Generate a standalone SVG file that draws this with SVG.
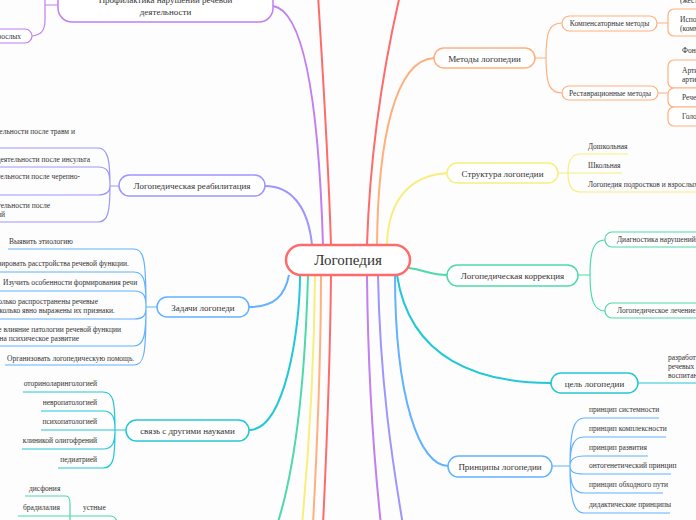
<svg xmlns="http://www.w3.org/2000/svg" width="696" height="520" viewBox="0 0 696 520" font-family="'Liberation Serif', 'DejaVu Serif', serif">
<style>
text{font-family:"Liberation Serif","Times New Roman",Times,serif;fill:#333}
.n{fill:#fff;stroke-width:1.5}
.s{fill:#fff;stroke-width:1.2}
.c{fill:none;stroke-width:2}
.l{fill:none;stroke-width:1.2}
.t10{font-size:9px;text-anchor:middle}
.t8{font-size:7.5px}
.e{text-anchor:end}
.m{text-anchor:middle}
.red{stroke:#ff6b6b}.org{stroke:#ffb07e}.yel{stroke:#f8ee7c}.grn{stroke:#4fd9a8}.cya{stroke:#22c8d6}.blu{stroke:#62b2ff}.vio{stroke:#9e95ff}.pur{stroke:#c17ff2}
</style>
<rect width="696" height="520" fill="#fdfdfd"/>
<g id="connectors">
<path class="c pur" d="M273 6C300 10 318 80 323 245"/>
<path class="c vio" d="M265 186C290 186 308 205 312 245"/>
<path class="c red" d="M331 245C328 150 322 60 318 -5"/>
<path class="c red" d="M367 245C370 150 385 60 400 -5"/>
<path class="c org" d="M434 58C395 60 378 140 377 245"/>
<path class="c yel" d="M448 173C410 175 388 200 387 245"/>
<path class="c blu" d="M249 307C275 307 285 295 289 275"/>
<path class="c cya" d="M249 430C285 430 300 330 300 275"/>
<path class="c grn" d="M308 275C305 380 295 470 277 525"/>
<path class="c yel" d="M315 275C314 380 308 460 302 525"/>
<path class="c org" d="M321 275C321 380 316 460 313 525"/>
<path class="c red" d="M331 275C330 380 326 460 323 525"/>
<path class="c pur" d="M367 275C368 380 374 460 381 525"/>
<path class="c vio" d="M378 275C380 380 392 460 403 525"/>
<path class="c blu" d="M395 275C395 400 420 466 448 466"/>
<path class="c cya" d="M397 275C410 360 480 383 551 383"/>
<path class="c grn" d="M409 268C425 270 430 275 448 275"/>
<path class="l pur" d="M58 5L45 5M45 -5L45 20C45 32 40 35 32 36"/>
<path class="l vio" d="M119 186L110 186M110 186C110 160 108 148 98 148L-5 148M110 186C110 172 108 167 98 167L-5 167M110 186C110 192 106 195 98 195L-5 195M110 186C110 212 108 222 98 222L-5 222"/>
<path class="l blu" d="M157 307L146 307M146 307C146 260 144 249 134 249L8 249M146 307C146 280 144 272 134 272L-5 272M146 307C146 296 144 291 134 291L0 291M146 307C146 315 144 319 134 319L-5 319M146 307C146 335 144 346 134 346L-5 346M146 307C146 355 144 365 134 365L5 365"/>
<path class="l cya" d="M126 430L115 430M115 430C115 400 113 392 103 392L23 392M115 430C115 418 113 411 103 411L41 411M115 430L41 430M115 430C115 442 113 449 103 449L22 449M115 430C115 460 113 468 103 468L58 468"/>
<path class="l grn" d="M25 496L66 496C69 496 70 499 70 504L70 525M18 516L80 516M70 516L110 516C114 516 117 519 118 525"/>
<path class="l org" d="M535 58L546 58M546 58C546 30 550 23 562 23M546 58C546 85 550 93 562 93M657 23L668 23M658 93L668 93"/>
<path class="l yel" d="M558 173L568 173M568 173C568 160 572 154 580 154L628 154M568 173L622 173M568 173C568 186 572 192 580 192L700 192"/>
<path class="l grn" d="M578 275L590 275M590 275C590 250 594 240 605 240M590 275C590 300 594 311 605 311"/>
<path class="l cya" d="M638 383L700 383"/>
<path class="l blu" d="M552 466L570 466M570 466C570 430 574 418 584 418L659 418M570 466C570 445 574 437 584 437L666 437M570 466C570 460 574 456 584 456L648 456M570 466C570 472 574 474 584 474L671 474M570 466C570 485 574 493 584 493L663 493M570 466C570 500 574 513 584 513L670 513"/>
</g>
<g id="root">
<rect x="286" y="245" width="124" height="30" rx="15" fill="#fff" stroke="#ff6b6b" stroke-width="2.5"/>
<text x="348" y="265" font-size="15" class="m">Логопедия</text>
</g>
<g id="profilaktika">
<rect class="n pur" x="58" y="-20" width="215" height="42" rx="14"/>
<text class="t10" x="165.5" y="3">Профилактика нарушений речевой</text>
<text class="t10" x="165.5" y="15">деятельности</text>
</g>
<g id="profilaktika-leaf">
<rect class="s pur" x="-50" y="29" width="82" height="14" rx="7"/>
<text class="t8 e" x="21" y="39">взрослых</text>
</g>
<g id="reabilitacia">
<rect class="n vio" x="119" y="175" width="146" height="21" rx="10.5"/>
<text class="t10" x="192" y="189">Логопедическая реабилитация</text>
</g>
<g id="reab-leaves">
<text class="t8 e" x="75" y="134">деятельности после травм и</text>
<text class="t8 e" x="90" y="162">речевой деятельности после инсульта</text>
<text class="t8 e" x="80" y="179">деятельности после черепно-</text>
<text class="t8 e" x="50" y="208">деятельности после</text>
<text class="t8 e" x="5" y="217">операций</text>
</g>
<g id="zadachi">
<rect class="n blu" x="157" y="297" width="92" height="20" rx="10"/>
<text class="t10" x="203" y="311">Задачи логопеди</text>
</g>
<g id="zadachi-leaves">
<text class="t8" x="9" y="244">Выявить этиологию</text>
<text class="t8 e" x="129" y="266">Систематизировать расстройства речевой функции.</text>
<text class="t8" x="3" y="285" font-size="7">Изучить особенности формирования речи</text>
<text class="t8 e" x="98" y="304">насколько распространены речевые</text>
<text class="t8 e" x="115" y="313">и насколько явно выражены их признаки.</text>
<text class="t8 e" x="121" y="332">какое влияние патологии речевой функции</text>
<text class="t8 e" x="79" y="341">оказать на психическое развитие</text>
<text class="t8" x="7" y="361">Организовать логопедическую помощь.</text>
</g>
<g id="sviaz">
<rect class="n cya" x="126" y="420" width="123" height="21" rx="10.5"/>
<text class="t10" x="187.5" y="434">связь с другими науками</text>
</g>
<g id="sviaz-leaves">
<text class="t8 e" x="97" y="386">оториноларингологией</text>
<text class="t8 e" x="97" y="405">невропатологией</text>
<text class="t8 e" x="97" y="424">психопатологией</text>
<text class="t8 e" x="97" y="443">клиникой олигофрений</text>
<text class="t8 e" x="97" y="462">педиатрией</text>
</g>
<g id="ustnye">
<text class="t8" x="29" y="491">дисфония</text>
<text class="t8" x="23" y="510">брадилалия</text>
<text class="t8" x="83" y="510">устные</text>
</g>
<g id="metody">
<rect class="n org" x="434" y="48" width="101" height="20" rx="10"/>
<text class="t10" x="484.5" y="61.5">Методы логопедии</text>
</g>
<g id="kompensatornye">
<rect class="s org" x="562" y="16" width="95" height="15" rx="7.5"/>
<text class="t8 m" x="609.5" y="26">Компенсаторные методы</text>
</g>
<g id="restavracionnye">
<rect class="s org" x="562" y="86" width="96" height="14" rx="7"/>
<text class="t8 m" x="610" y="95.5">Реставрационные методы</text>
</g>
<g id="metody-leaves">
<text class="t8" x="680" y="3">(жестовая)</text>
<rect class="s org" x="668" y="9" width="60" height="27" rx="6"/>
<text class="t8" x="680" y="22">Использование</text>
<text class="t8" x="680" y="31">(коммуникации)</text>
<text class="t8" x="682" y="53">Фонетическая</text>
<rect class="s org" x="668" y="60" width="60" height="28" rx="6"/>
<text class="t8" x="682" y="73">Артикуляционная</text>
<text class="t8" x="682" y="82">артикуляция</text>
<rect class="s org" x="668" y="88" width="60" height="19" rx="6"/>
<text class="t8" x="682" y="100">Речевая</text>
<rect class="s org" x="668" y="107" width="60" height="19" rx="6"/>
<text class="t8" x="682" y="119">Голосовые</text>
</g>
<g id="struktura">
<rect class="n yel" x="447" y="163" width="111" height="20" rx="10"/>
<text class="t10" x="502.5" y="176.5">Структура логопедии</text>
</g>
<g id="struktura-leaves">
<text class="t8" x="588" y="149">Дошкольная</text>
<text class="t8" x="588" y="168">Школьная</text>
<text class="t8" x="588" y="187" font-size="7.2">Логопедия подростков и взрослых</text>
</g>
<g id="korrekcia">
<rect class="n grn" x="447" y="265" width="131" height="21" rx="10.5"/>
<text class="t10" x="512.5" y="279">Логопедическая коррекция</text>
</g>
<g id="korrekcia-leaves">
<rect class="s grn" x="605" y="232" width="120" height="15" rx="7"/>
<text class="t8" x="617" y="242">Диагностика нарушений речи</text>
<rect class="s grn" x="605" y="303" width="120" height="15" rx="7"/>
<text class="t8" x="617" y="313" font-size="7.2">Логопедическое лечение</text>
</g>
<g id="cel">
<rect class="n cya" x="551" y="373" width="87" height="20" rx="10"/>
<text class="t10" x="594.5" y="386.5">цель логопедии</text>
</g>
<g id="cel-leaf">
<text class="t8" x="668" y="360">разработка</text>
<text class="t8" x="668" y="369">речевых расстройств</text>
<text class="t8" x="668" y="378">воспитании</text>
</g>
<g id="principy">
<rect class="n blu" x="448" y="456" width="104" height="21" rx="10.5"/>
<text class="t10" x="500" y="469.5">Принципы логопедии</text>
</g>
<g id="principy-leaves">
<text class="t8" x="589" y="412">принцип системности</text>
<text class="t8" x="589" y="431">принцип комплексности</text>
<text class="t8" x="589" y="450">принцип развития</text>
<text class="t8" x="589" y="468">онтогенетический принцип</text>
<text class="t8" x="589" y="487">принцип обходного пути</text>
<text class="t8" x="589" y="507">дидактические принципы</text>
</g>
</svg>
